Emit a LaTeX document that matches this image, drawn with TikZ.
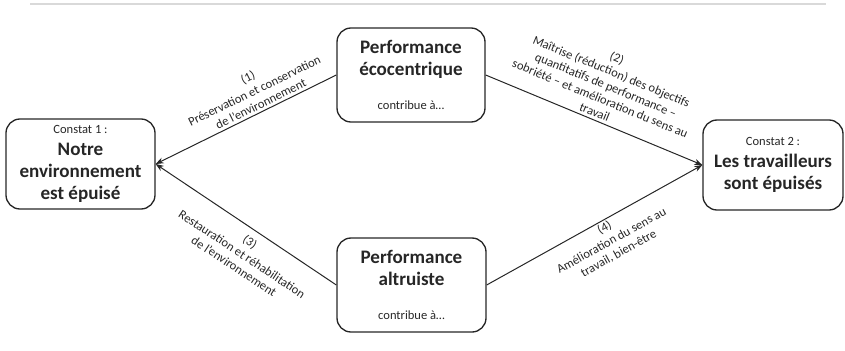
\documentclass[tikz,border=0pt]{standalone}
\usepackage{fontspec}
\setmainfont{Carlito}
\usetikzlibrary{arrows.meta}

\definecolor{inkgray}{RGB}{38,38,38}
\definecolor{rulegray}{RGB}{217,217,217}

\newcommand{\titlefont}{\fontsize{14.3}{16.5}\selectfont\bfseries}
\newcommand{\smallfont}{\fontsize{9.4}{11}\selectfont}

\tikzset{
  boxnode/.style={draw=inkgray, line width=1pt, rounded corners=10.5pt, align=center, inner sep=0pt, text=inkgray, font=\titlefont},
  linklabel/.style={align=center, font=\fontsize{9.4}{11}\selectfont, text=inkgray, inner sep=2pt},
  flow/.style={draw=inkgray, line width=0.75pt, -{Stealth[length=6pt,width=4.5pt]}},
}

\begin{document}
\begin{tikzpicture}[x=0.75pt,y=0.75pt,yscale=-1,xscale=1]
\useasboundingbox (0,0) rectangle (845,350);

%Top rule
\draw [rulegray, line width=2.2pt] (30,4) -- (826,4) ;

%Shape: Rounded Rect (constat 1)
\node [boxnode, minimum width=111.75pt, minimum height=67.5pt] (left) at (80.5,164) {{\smallfont\mdseries Constat 1 :}\\Notre\\environnement\\est épuisé};
%Shape: Rounded Rect (constat 2)
\node [boxnode, minimum width=105pt, minimum height=67.5pt] (right) at (773,165) {{\smallfont\mdseries Constat 2 :}\\Les travailleurs\\sont épuisés};
%Shape: Rounded Rect (performance ecocentrique)
\node [boxnode, minimum width=111pt, minimum height=70.5pt] (top) at (411,75) {Performance\\écocentrique\\[8.5pt]{\smallfont\mdseries contribue à…}};
%Shape: Rounded Rect (performance altruiste)
\node [boxnode, minimum width=111.75pt, minimum height=70.5pt] (bottom) at (411.5,285) {Performance\\altruiste\\[8.5pt]{\smallfont\mdseries contribue à…}};

%Straight Lines (1)
\draw [flow] (top.west) -- node [linklabel, above, rotate=26.1, pos=0.4] {(1)\\Préservation et conservation\\de l’environnement} (left.east) ;
%Straight Lines (2)
\draw [flow] (top.east) -- node [linklabel, above, rotate=-22.4, pos=0.49] {(2)\\Maîtrise (réduction) des objectifs\\quantitatifs de performance –\\sobriété – et amélioration du sens au\\travail} (right.west) ;
%Straight Lines (3)
\draw [flow] (bottom.west) -- node [linklabel, below, rotate=-33.6, pos=0.44, inner sep=5pt] {(3)\\Restauration et réhabilitation\\de l’environnement} (left.east) ;
%Straight Lines (4)
\draw [flow] (bottom.east) -- node [linklabel, below, rotate=29, pos=0.53, inner sep=1pt] {(4)\\Amélioration du sens au\\travail, bien-être} (right.west) ;

\end{tikzpicture}
\end{document}
